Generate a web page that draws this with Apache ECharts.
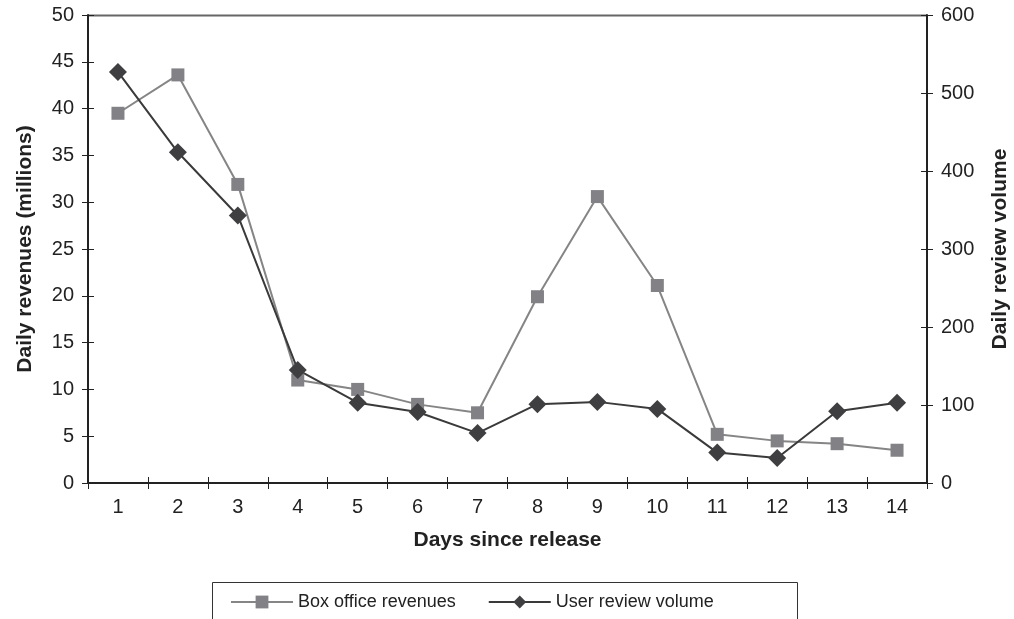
<!DOCTYPE html>
<html><head><meta charset="utf-8">
<script src="https://cdn.jsdelivr.net/npm/echarts@6/dist/echarts.min.js"></script>
<style>html,body{margin:0;padding:0;background:#fff}#c{width:1014px;height:619px}</style>
</head><body><div id="c"></div>
<script>
const days = ['1','2','3','4','5','6','7','8','9','10','11','12','13','14'];
const boxOffice = [39.5, 43.6, 31.9, 11.0, 10.0, 8.4, 7.5, 19.9, 30.6, 21.1, 5.2, 4.5, 4.2, 3.5];
const reviewVolume = [527, 424, 343, 145, 103, 91, 64, 101, 104, 95, 39, 32, 92, 103];
const seriesNames = ['Box office revenues', 'User review volume'];

const chart = echarts.init(document.getElementById('c'));
const font = 'Liberation Sans, Arial, sans-serif';
chart.setOption({
  animation: false,
  textStyle: {fontFamily: font},
  grid: {left: 88, right: 87, top: 15, bottom: 136, containLabel: false, outerBoundsMode: 'none'},
  legend: {
    left: 225, top: 588, itemGap: 32, itemWidth: 62, itemHeight: 16,
    textStyle: {fontSize: 18, color: '#222', fontFamily: font},
    data: seriesNames
  },
  graphic: [
    {type: 'rect', shape: {x: 212.5, y: 582.5, width: 585, height: 60}, style: {fill: 'none', stroke: '#333', lineWidth: 1}},
    {type: 'line', shape: {x1: 88, y1: 15.5, x2: 927, y2: 15.5}, style: {stroke: '#666', lineWidth: 2}}
  ],
  xAxis: [{
    type: 'category', data: days, boundaryGap: true,
    name: 'Days since release', nameLocation: 'middle', nameGap: 47,
    nameTextStyle: {fontSize: 21, fontWeight: 'bold', color: '#222'},
    axisLine: {lineStyle: {color: '#222', width: 2}},
    axisTick: {show: true, length: 6, lineStyle: {color: '#222'}},
    axisLabel: {fontSize: 20, color: '#222', margin: 14}
  }, {
    type: 'category', data: days, boundaryGap: true, position: 'bottom',
    axisLine: {show: false},
    axisTick: {show: true, inside: true, length: 6, lineStyle: {color: '#222'}},
    axisLabel: {show: false}
  }],
  yAxis: [{
    type: 'value', min: 0, max: 50, interval: 5, position: 'left',
    name: 'Daily revenues (millions)', nameLocation: 'middle', nameGap: 52,
    nameTextStyle: {fontSize: 21, fontWeight: 'bold', color: '#222'},
    axisLine: {show: true, lineStyle: {color: '#222', width: 2}},
    axisTick: {show: true, length: 6, lineStyle: {color: '#222'}},
    axisLabel: {fontSize: 20, color: '#222', margin: 14},
    splitLine: {show: false}
  }, {
    type: 'value', min: 0, max: 600, interval: 100, position: 'right',
    name: 'Daily review volume', nameLocation: 'middle', nameGap: 63, nameRotate: 90,
    nameTextStyle: {fontSize: 21, fontWeight: 'bold', color: '#222'},
    axisLine: {show: true, lineStyle: {color: '#222', width: 2}},
    axisTick: {show: true, length: 6, lineStyle: {color: '#222'}},
    axisLabel: {fontSize: 20, color: '#222', margin: 14},
    splitLine: {show: false}
  }, {
    type: 'value', min: 0, max: 50, interval: 5, position: 'left',
    axisLine: {show: false}, axisLabel: {show: false}, splitLine: {show: false},
    axisTick: {show: true, inside: true, length: 6, lineStyle: {color: '#222'}}
  }, {
    type: 'value', min: 0, max: 600, interval: 100, position: 'right',
    axisLine: {show: false}, axisLabel: {show: false}, splitLine: {show: false},
    axisTick: {show: true, inside: true, length: 6, lineStyle: {color: '#222'}}
  }],
  series: [{
    name: seriesNames[0], type: 'line', yAxisIndex: 0, data: boxOffice,
    symbol: 'rect', symbolSize: 13,
    lineStyle: {color: '#858585', width: 2},
    itemStyle: {color: '#818186'}
  }, {
    name: seriesNames[1], type: 'line', yAxisIndex: 1, data: reviewVolume,
    symbol: 'diamond', symbolSize: 18,
    lineStyle: {color: '#3a3a3a', width: 2},
    itemStyle: {color: '#3f3f42'}
  }]
});
</script></body></html>
